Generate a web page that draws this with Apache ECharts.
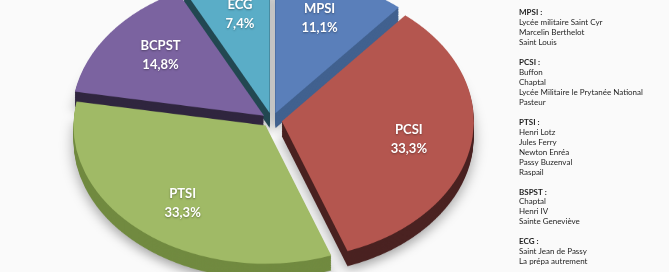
<!DOCTYPE html>
<html>
<head>
<meta charset="utf-8">
<script src="https://cdn.jsdelivr.net/npm/echarts@6/dist/echarts.min.js"></script>
<style>
  html, body { margin: 0; padding: 0; background: #fafafa; overflow: hidden; }
  #wrap { position: relative; width: 669px; height: 272px; overflow: hidden; }
  #pie { position: absolute; left: 0; top: 0; width: 669px; transform-origin: 0 0; }
  #over { position: absolute; left: 0; top: 0; width: 669px; height: 272px; }
</style>
</head>
<body>
<div id="wrap"><div id="pie"></div><div id="over"></div></div>
<script>
// ---- data ----
const categories = ['MPSI', 'PCSI', 'PTSI', 'BCPST', 'ECG'];
const percentages = [11.1, 33.3, 33.3, 14.8, 7.4];
const topColors = ['#5A7FBA', '#B4564F', '#A0BA66', '#7B63A0', '#5AADC7'];
const sideColors = ['#41618F', '#4A2221', '#718A40', '#30263F', '#234852'];
const explode = [10, 22, 10, 10, 10];

const headings = ['MPSI :', 'PCSI :', 'PTSI :', 'BSPST :', 'ECG :'];
const mpsiSchools = ['Lycée militaire Saint Cyr', 'Marcelin Berthelot', 'Saint Louis'];
const pcsiSchools = ['Buffon', 'Chaptal', 'Lycée Militaire le Prytanée National', 'Pasteur'];
const ptsiSchools = ['Henri Lotz', 'Jules Ferry', 'Newton Enréa', 'Passy Buzenval', 'Raspail'];
const bcpstSchools = ['Chaptal', 'Henri IV', 'Sainte Geneviève'];
const ecgSchools = ['Saint Jean de Passy', 'La prépa autrement'];
const schoolGroups = [mpsiSchools, pcsiSchools, ptsiSchools, bcpstSchools, ecgSchools];

// ---- geometry / style ----
const K = 0.72;          // vertical squash of the pie (tilt)
const CX = 272, CY = 120; // pie centre on screen
const R = 192;           // radius
const DEPTH = 15;        // screen thickness of the 3D side
const LAYERS = 12;
const LABEL_K = 0.78;

const pieDiv = document.getElementById('pie');
const H = 272 / K;
pieDiv.style.height = H + 'px';
pieDiv.style.transform = 'scaleY(' + K + ')';

function makeData(colors, withShadow) {
  return categories.map((c, i) => ({
    name: c,
    value: percentages[i],
    selected: true,
    selectedOffset: explode[i],
    itemStyle: Object.assign({ color: colors[i], borderWidth: 0 },
      withShadow ? { shadowBlur: 14, shadowColor: 'rgba(0,0,0,0.35)', shadowOffsetY: 6 } : {}),
    select: { itemStyle: { color: colors[i] } }
  }));
}

const series = [];
for (let l = LAYERS; l >= 1; l--) {
  const off = (DEPTH / K) * l / LAYERS;
  series.push({
    type: 'pie',
    silent: true,
    animation: false,
    startAngle: 90,
    clockwise: true,
    center: [CX, CY / K + off],
    radius: [0, R],
    selectedMode: 'multiple',
    selectedOffset: 10,
    label: { show: false },
    labelLine: { show: false },
    emphasis: { disabled: true },
    data: makeData(sideColors, l === LAYERS)
  });
}
series.push({
  type: 'pie',
  silent: true,
  animation: false,
  startAngle: 90,
  clockwise: true,
  center: [CX, CY / K],
  radius: [0, R],
  selectedMode: 'multiple',
  selectedOffset: 10,
  label: { show: false },
  labelLine: { show: false },
  emphasis: { disabled: true },
  data: makeData(topColors, false)
});

const pieChart = echarts.init(pieDiv, null, { renderer: 'canvas' });
pieChart.setOption({ animation: false, series: series });

// ---- overlay: labels + school list ----
const textEls = [];
let lineIdx = 0;
const TX = 519, TY0 = 12.3, LH = 9.98;
headings.forEach((h, gi) => {
  textEls.push({
    type: 'text', x: TX, y: TY0 + lineIdx * LH,
    style: { text: h, fill: '#1e1e1e', font: 'bold 8px Lato', verticalAlign: 'middle', align: 'left' }
  });
  lineIdx++;
  schoolGroups[gi].forEach(s => {
    textEls.push({
      type: 'text', x: TX, y: TY0 + lineIdx * LH,
      style: { text: s, fill: '#1e1e1e', font: '8px Lato', verticalAlign: 'middle', align: 'left' }
    });
    lineIdx++;
  });
  lineIdx++;
});

const over = echarts.init(document.getElementById('over'), null, { renderer: 'canvas' });
over.setOption({
  animation: false,
  graphic: textEls,
  series: [{
    type: 'pie',
    silent: true,
    startAngle: 90,
    clockwise: true,
    center: [CX, CY],
    radius: [80, R],
    itemStyle: { color: 'rgba(0,0,0,0)' },
    label: {
      show: true,
      position: 'inside',
      color: '#ffffff',
      fontFamily: 'Lato',
      fontWeight: 'bold',
      fontSize: 13,
      lineHeight: 19,
      textShadowColor: 'rgba(0,0,0,0.35)',
      textShadowBlur: 2,
      textShadowOffsetY: 1,
      formatter: p => p.name + '\n' + String(p.value).replace('.', ',') + '%'
    },
    labelLine: { show: false },
    labelLayout: function (p) {
      const r = p.labelRect;
      const lx = r.x + r.width / 2;
      const ly = r.y + r.height / 2;
      return { x: lx, y: CY + LABEL_K * (ly - CY), align: 'center', verticalAlign: 'middle' };
    },
    data: categories.map((c, i) => ({ name: c, value: percentages[i] }))
  }]
});
</script>
</body>
</html>
